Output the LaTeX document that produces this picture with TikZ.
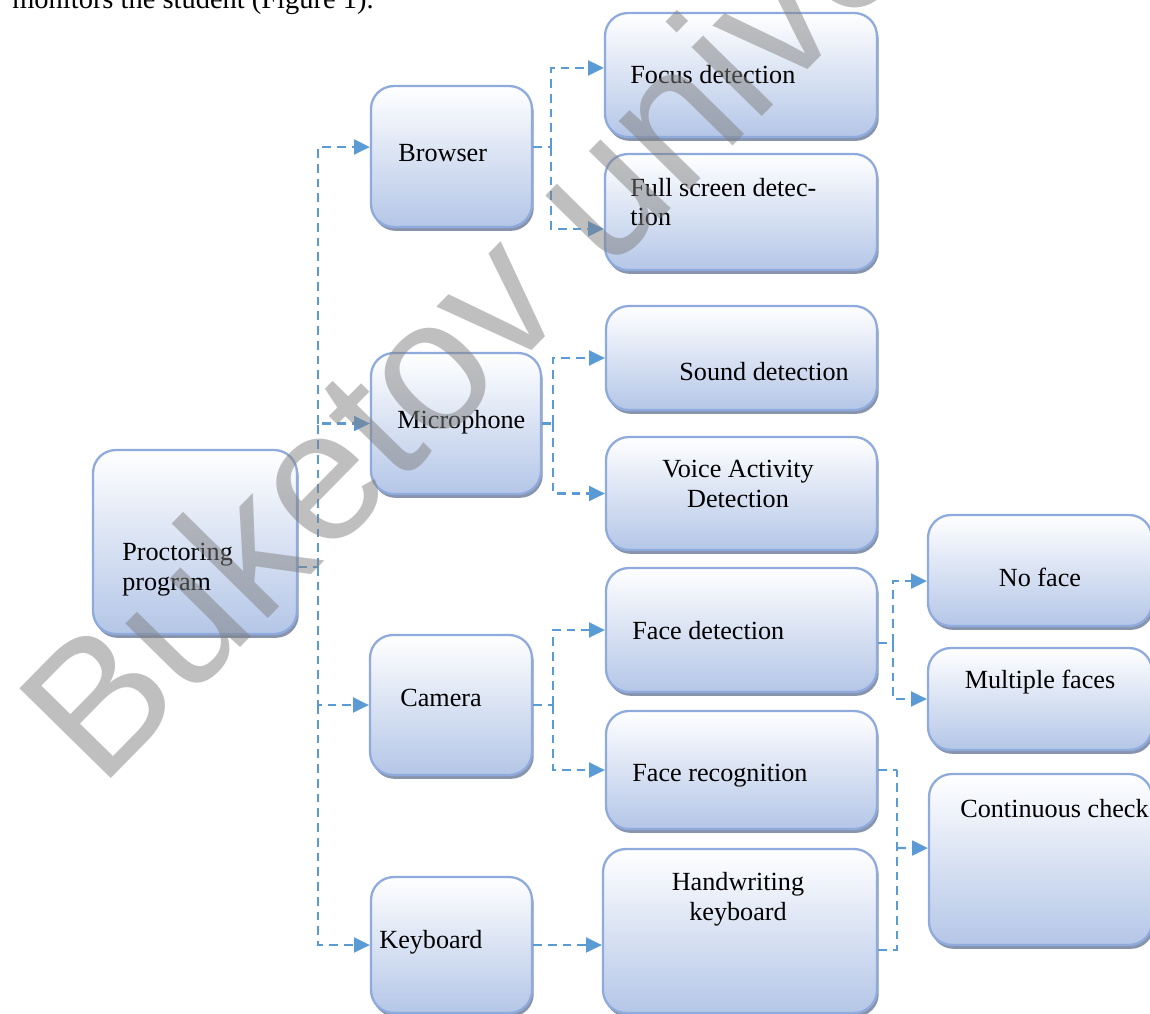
\documentclass[tikz,border=0pt]{standalone}
\usepackage{fontspec}
\setmainfont{Liberation Serif}
\newfontfamily\marksans{Liberation Sans}
\usetikzlibrary{arrows.meta,calc,shadows}
\definecolor{boxline}{RGB}{143,170,220}
\definecolor{boxfill}{RGB}{180,198,231}
\definecolor{boxshade}{RGB}{135,148,172}
\definecolor{linkblue}{RGB}{91,155,213}

\begin{document}
\begin{tikzpicture}[x=0.02cm,y=-0.02cm,
  box/.style={draw=boxline,line width=1.3pt,rounded corners=13pt,
    top color=white,bottom color=boxfill,
    drop shadow={shadow xshift=1pt,shadow yshift=-2.2pt,fill=boxshade,opacity=1}},
  txt/.style={inner sep=0pt,font=\fontsize{14.9}{17}\selectfont},
  link/.style={draw=linkblue,line width=1.3pt,dash pattern=on 5pt off 3.4pt},
  arrow/.style={link,-{Triangle[length=9pt,width=8.5pt]}}]
%
  \useasboundingbox (0,0) rectangle (1150,1014);
  \clip (0,0) rectangle (1150,1014);
%
  \node[anchor=base west,inner sep=0pt,font=\fontsize{16.2}{19}\selectfont]
    (caption) at (12,9) {monitors the student (Figure 1).};
%
  \node[box,minimum width=4.08cm,minimum height=3.68cm] (proc) at (195,542) {};
  \node[box,minimum width=3.22cm,minimum height=2.82cm] (browser) at (451.5,156.5) {};
  \node[box,minimum width=3.40cm,minimum height=2.82cm] (mic) at (456,423.5) {};
  \node[box,minimum width=3.24cm,minimum height=2.80cm] (camera) at (451,705) {};
  \node[box,minimum width=3.22cm,minimum height=2.72cm] (kbd) at (451.5,945) {};
  \node[box,minimum width=5.44cm,minimum height=2.48cm] (focus) at (741,75) {};
  \node[box,minimum width=5.44cm,minimum height=2.32cm] (full) at (741,212) {};
  \node[box,minimum width=5.42cm,minimum height=2.08cm] (sound) at (741.5,358) {};
  \node[box,minimum width=5.42cm,minimum height=2.26cm] (voice) at (741.5,493.5) {};
  \node[box,minimum width=5.42cm,minimum height=2.48cm] (facedet) at (741.5,630) {};
  \node[box,minimum width=5.42cm,minimum height=2.36cm] (facerec) at (741.5,770) {};
  \node[box,minimum width=5.48cm,minimum height=3.28cm] (hand) at (740,931) {};
  \node[box,minimum width=4.48cm,minimum height=2.22cm] (noface) at (1040,570.5) {};
  \node[box,minimum width=4.48cm,minimum height=2.04cm] (multi) at (1040,699) {};
  \node[box,minimum width=4.46cm,minimum height=3.42cm] (cont) at (1040.5,859.5) {};
%
  \node[txt,anchor=west,align=left] (proc-t) at (122,570) {Proctoring\\program};
  \node[txt,anchor=base west] (browser-t) at (398,161) {Browser};
  \node[txt,anchor=base west] (mic-t) at (397,428) {Microphone};
  \node[txt,anchor=base west] (camera-t) at (400,706) {Camera};
  \node[txt,anchor=base west] (kbd-t) at (379,948) {Keyboard};
  \node[txt,anchor=base west] (focus-t) at (630,83) {Focus detection};
  \node[txt,anchor=west,align=left] (full-t) at (630,202) {Full screen detec-\\tion};
  \node[txt,anchor=base west] (sound-t) at (679,380) {Sound detection};
  \node[txt,align=center] (voice-t) at (738,484) {Voice Activity\\Detection};
  \node[txt,anchor=base west] (facedet-t) at (632,639) {Face detection};
  \node[txt,anchor=base west] (facerec-t) at (632,781) {Face recognition};
  \node[txt,align=center] (hand-t) at (738,899) {Handwriting\\keyboard};
  \node[txt,anchor=base] (noface-t) at (1040,586) {No face};
  \node[txt,anchor=base] (multi-t) at (1040,688) {Multiple faces};
  \node[txt,anchor=base west] (cont-t) at (960,817) {Continuous check};
%
  \draw[link] ([yshift=-14.2pt]proc.east) -- ++(20,0) coordinate (spine);
  \draw[arrow] (spine) |- (mic.west);
  \draw[arrow] (spine |- mic.west) |- ([yshift=5.4pt]browser.west);
  \draw[arrow] (spine) |- (camera.west);
  \draw[arrow] (spine |- camera.west) |- (kbd.west);
%
  \draw[link] ([yshift=5.4pt]browser.east) -- ++(18,0) coordinate (bj);
  \draw[arrow] (bj) |- ([yshift=4pt]focus.west);
  \draw[arrow] (bj) |- ([yshift=-9.6pt]full.west);
%
  \draw[link] (mic.east) -- ++(11,0) coordinate (mj);
  \draw[arrow] (mj) |- (sound.west);
  \draw[arrow] (mj) |- (voice.west);
%
  \draw[link] (camera.east) -- ++(20,0) coordinate (cj);
  \draw[arrow] (cj) |- (facedet.west);
  \draw[arrow] (cj) |- (facerec.west);
%
  \draw[arrow] (kbd.east) -- (kbd.east -| hand.west);
%
  \draw[link] ([yshift=-7.4pt]facedet.east) -- ++(15,0) coordinate (fj);
  \draw[arrow] (fj) |- ([yshift=-6pt]noface.west);
  \draw[arrow] (fj) |- (multi.west);
%
  \draw[link] (facerec.east) -- ++(19,0) coordinate (rj);
  \draw[link] ([yshift=-10.8pt]hand.east) -| (rj);
  \draw[arrow] ($(rj |- cont.west)+(0,-11.5)$) -- ([yshift=6.5pt]cont.west);
%
  \node[anchor=base west,inner sep=0pt,rotate=45.5,text=black!50,text opacity=0.5,
    font=\marksans\fontsize{106}{106}\selectfont] (mark) at (100,790) {Buketov university};
%
\end{tikzpicture}
\end{document}
